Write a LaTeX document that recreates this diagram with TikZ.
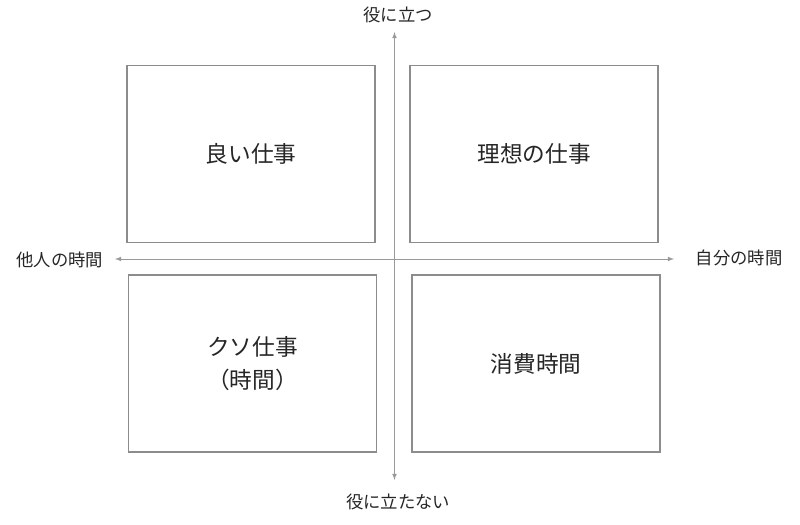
\documentclass[tikz,border=0pt]{standalone}
\usepackage{fontspec}
\setmainfont{Noto Sans CJK JP}
\usepackage{tikz}
\usetikzlibrary{calc}
\usetikzlibrary{positioning}

\begin{document}
\begin{tikzpicture}[x=0.75pt, y=-0.75pt,
  quadrant/.style={rectangle, draw=black!45, line width=1.1pt, fill=white, minimum width=186pt, minimum height=132.75pt, inner sep=0pt, align=center, font=\fontsize{17}{25}\selectfont, text=black!85},
  axislabel/.style={inner sep=0pt, font=\fontsize{13}{15}\selectfont, text=black!85}]
\useasboundingbox (0,0) rectangle (800,525);

% axis end points
\coordinate (top) at (394.5,32);
\coordinate (bottom) at (394.5,480);
\coordinate (left) at (115,259);
\coordinate (right) at (674,259);

\node (useful) at (398,15) [axislabel] {役に立つ};
\node (useless) at (398,502) [axislabel] {役に立たない};
\node (others) at (60,260) [axislabel] {他人の時間};
\node (mine) at (739,258) [axislabel] {自分の時間};

\begin{scope}[>=latex]
	\draw[black!40, line width=0.6pt, <->] (bottom) -- (top);
	\draw[black!40, line width=0.6pt, <->] (left) -- (right);
\end{scope}

\node at (251,154.25) [quadrant] (goodwork) {良い仕事};
\node at (534,154.25) [quadrant] (idealwork) {理想の仕事};
\node at (252.5,363.6) [quadrant] (junkwork) {クソ仕事\\（時間）};
\node at (536,363.6) [quadrant] (spent) {消費時間};
\end{tikzpicture}
\end{document}
